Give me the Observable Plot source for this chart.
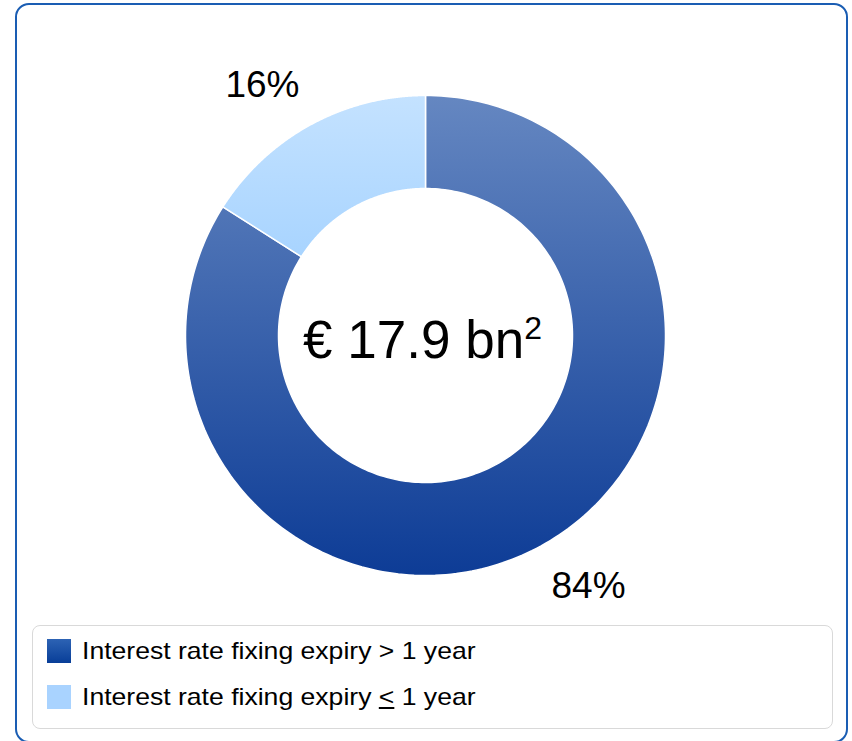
<!DOCTYPE html>
<html>
<head>
<meta charset="utf-8">
<script src="https://cdn.jsdelivr.net/npm/d3@7"></script>
<script src="https://cdn.jsdelivr.net/npm/@observablehq/plot@0.6"></script>
<style>
  html, body { margin: 0; padding: 0; background: #fff; }
  body { width: 852px; height: 741px; position: relative; overflow: hidden;
         font-family: "Liberation Sans", Arial, sans-serif; }
  #frame { position: absolute; left: 15px; top: 3px; width: 833px; height: 740px;
           border: 2px solid #1a5db3; border-radius: 14px; box-sizing: border-box; }
  #chart { position: absolute; left: 0; top: 0; }
  #legend { position: absolute; left: 32px; top: 625px; width: 801px; height: 104px;
            border: 1px solid #d9d9d9; border-radius: 8px; box-sizing: border-box; }
  .item { position: absolute; left: 14px; height: 24px; display: flex; align-items: center; }
  .sw { width: 24px; height: 24px; margin-right: 11px; flex: none; }
  .lab { font-size: 24px; color: #000; white-space: nowrap; line-height: 24px;
         transform: scaleX(1.107); transform-origin: left center; }
</style>
</head>
<body>
<div id="frame"></div>
<div id="chart"></div>
<div id="legend"></div>
<script>
// ---- data ----
const categories = ["Interest rate fixing expiry > 1 year", "Interest rate fixing expiry \u2264 1 year"];
const legendHtml = ["Interest rate fixing expiry &gt; 1 year", "Interest rate fixing expiry <u>&lt;</u> 1 year"];
const shares = [84, 16];
const valueLabels = ["84%", "16%"];
const centerMain = "\u20ac 17.9 bn";
const centerSup = "2";
const gradients = [["#6587c1", "#0d3c96"], ["#c4e2ff", "#a8d4ff"]];
const swatchGradients = [["#2d63b4", "#083e98"], ["#a9d3ff", "#a9d3ff"]];

// ---- geometry derived from data ----
const innerR = 0.6125, outerR = 1;
const pie = d3.pie().sort(null).value(d => d)(shares);
const N = 240;
const slices = pie.map((p, i) => {
  const pts = [];
  for (let k = 0; k <= N; k++) {
    const t = p.startAngle + (p.endAngle - p.startAngle) * k / N;
    pts.push({x: outerR * Math.sin(t), y: outerR * Math.cos(t), i});
  }
  for (let k = N; k >= 0; k--) {
    const t = p.startAngle + (p.endAngle - p.startAngle) * k / N;
    pts.push({x: innerR * Math.sin(t), y: innerR * Math.cos(t), i});
  }
  pts.push(pts[0]);
  return pts;
});
const labels = pie.map((p, i) => {
  const m = (p.startAngle + p.endAngle) / 2;
  return {x: 1.41 * Math.sin(m), y: 1.19 * Math.cos(m), text: valueLabels[i]};
});

const marks = slices.map((pts, i) =>
  Plot.line(pts, {x: "x", y: "y", fill: `url(#grad${i})`, stroke: "white", strokeWidth: 1.5, curve: "linear"})
);
marks.push(Plot.text(labels, {x: "x", y: "y", text: "text", fontSize: 37, fill: "#000"}));
marks.push(Plot.text([centerMain], {x: () => 0, y: () => 0, text: d => d, fontSize: 53, fill: "#000", dx: -3, dy: 6, className: "center-label"}));

const svg = Plot.plot({
  width: 852, height: 620, margin: 0,
  style: {fontFamily: '"Liberation Sans", Arial, sans-serif', background: "transparent", overflow: "visible"},
  x: {domain: [-1, 1], range: [185, 665], axis: null},
  y: {domain: [-1, 1], range: [575, 95], axis: null},
  marks
});

// superscript "2" appended to the centre label
d3.select(svg).selectAll(".center-label text").each(function() {
  d3.select(this).append("tspan").attr("font-size", 32).attr("dy", "-0.6em").text(centerSup);
});

const defs = d3.select(svg).insert("defs", ":first-child");
gradients.forEach((g, i) => {
  const lg = defs.append("linearGradient").attr("id", `grad${i}`)
    .attr("x1", 0).attr("y1", 0).attr("x2", 0).attr("y2", 1);
  lg.append("stop").attr("offset", 0).attr("stop-color", g[0]);
  lg.append("stop").attr("offset", 1).attr("stop-color", g[1]);
});
document.getElementById("chart").appendChild(svg);

// ---- legend ----
const legend = d3.select("#legend");
categories.forEach((c, i) => {
  const it = legend.append("div").attr("class", "item").style("top", (13 + i * 46) + "px").attr("title", c);
  it.append("div").attr("class", "sw")
    .style("background", `linear-gradient(${swatchGradients[i][0]}, ${swatchGradients[i][1]})`);
  it.append("div").attr("class", "lab").html(legendHtml[i]);
});
</script>
</body>
</html>
